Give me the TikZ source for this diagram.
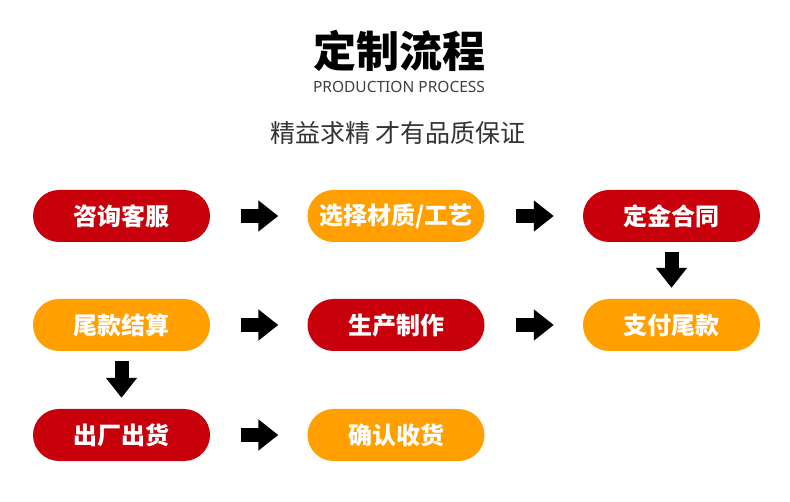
\documentclass[tikz,border=0pt]{standalone}
\usepackage{fontspec}
\setmainfont{Noto Sans CJK SC}
\newfontfamily\latinfont{Noto Sans}
\usetikzlibrary{arrows.meta,positioning}
\definecolor{stepred}{HTML}{C8000B}
\definecolor{steporange}{HTML}{FFA000}
\tikzset{
  stage/.style={rounded corners=26pt,minimum width=177pt,minimum height=52pt,
    text=white,font=\fontsize{24pt}{26pt}\selectfont\bfseries,inner sep=0pt},
  red stage/.style={stage,fill=stepred},
  orange stage/.style={stage,fill=steporange},
  blk/.style={line width=14pt,-{Triangle[length=20pt,width=30pt]}},
  across/.style={blk,shorten <=31pt,shorten >=29pt},
  down/.style={blk,shorten <=10pt,shorten >=11pt}
}
\begin{document}
\begin{tikzpicture}[x=1pt,y=-1pt]
  \useasboundingbox (0,0) rectangle (790,502);

  % --------------------------------------------------------- %
  % ------------- heading
  % --------------------------------------------------------- %
  \node[font=\fontsize{43pt}{45pt}\selectfont\bfseries] (title) at (399,51) {定制流程};
  \node[font=\latinfont\fontsize{15.5pt}{17pt}\selectfont,text=black!75] (subtitle) at (399,87) {PRODUCTION PROCESS};
  \node[font=\fontsize{25pt}{27pt}\selectfont,text=black!80] (motto) at (398,133) {精益求精 才有品质保证};

  % --------------------------------------------------------- %
  % ------------- stages
  % --------------------------------------------------------- %
  \node[red stage] (consult) at (121.5,216) {咨询客服};
  \node[orange stage] (material) at (396,216) {选择材质/工艺};
  \node[red stage] (contract) at (671.5,216) {定金合同};
  \node[orange stage] (final) at (121.5,325) {尾款结算};
  \node[red stage] (produce) at (396,325) {生产制作};
  \node[orange stage] (pay) at (671.5,325) {支付尾款};
  \node[red stage] (ship) at (121.5,435) {出厂出货};
  \node[orange stage] (receive) at (396,435) {确认收货};

  % --------------------------------------------------------- %
  % ------------- arrows
  % --------------------------------------------------------- %
  \draw[across] (consult) -- (material);
  \draw[across] (material) -- (contract);
  \draw[down] (contract) -- (pay);
  \draw[across] (final) -- (produce);
  \draw[across] (produce) -- (pay);
  \draw[down] (final) -- (ship);
  \draw[across] (ship) -- (receive);

\end{tikzpicture}
\end{document}
